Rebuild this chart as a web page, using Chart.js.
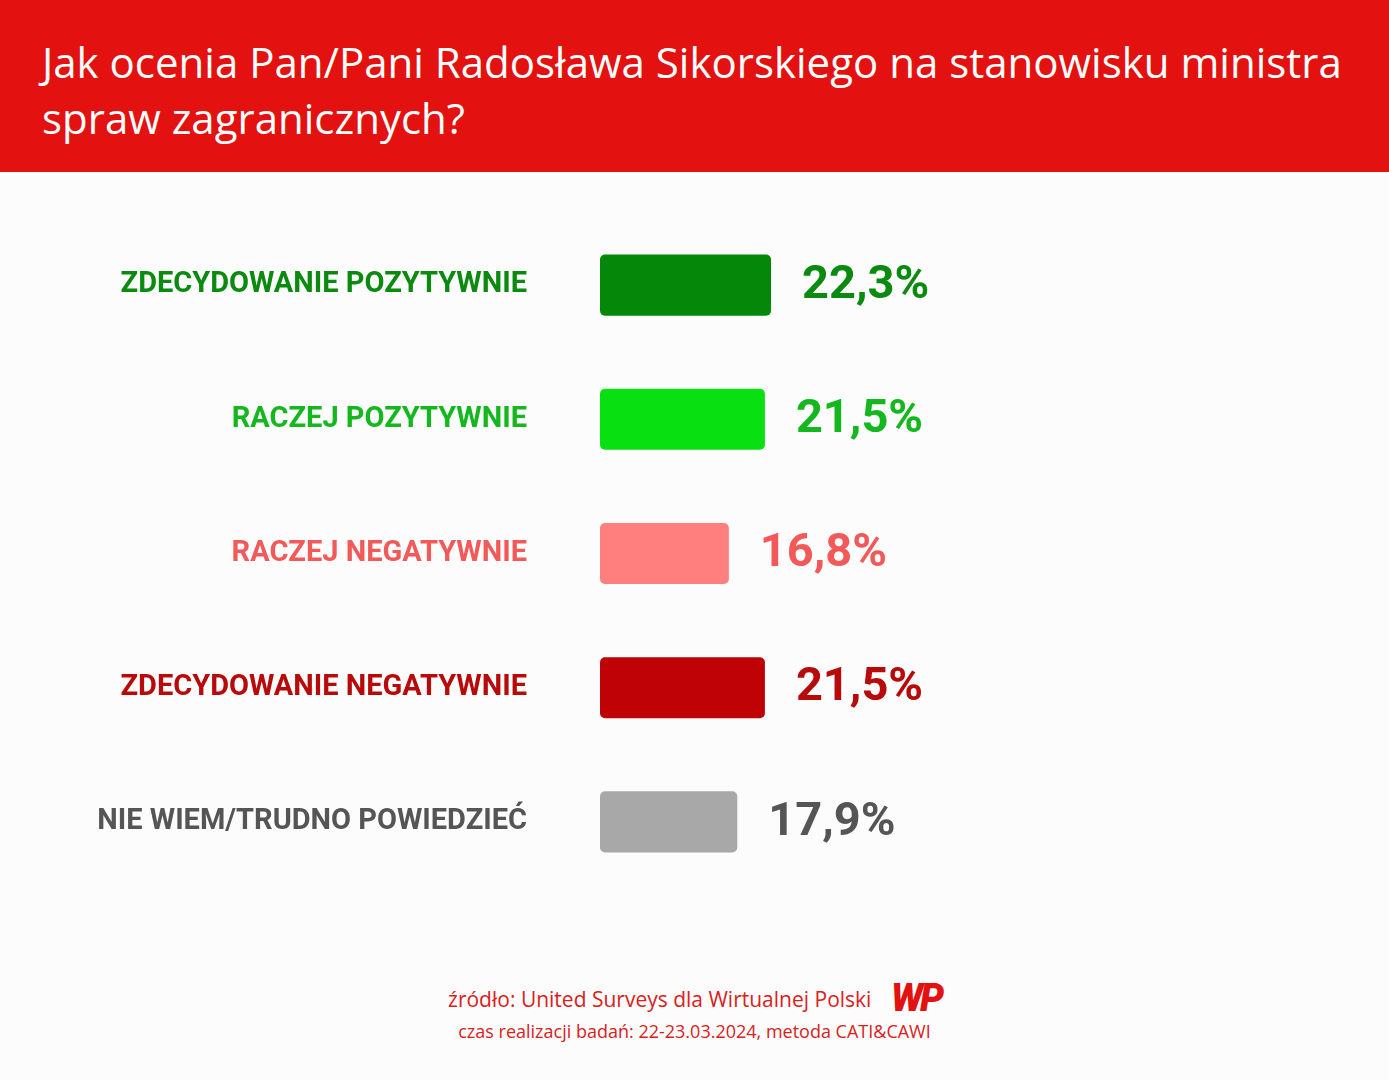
<!DOCTYPE html>
<html lang="pl">
<head>
<meta charset="UTF-8" />
<script src="https://cdn.jsdelivr.net/npm/chart.js@4.4.0/dist/chart.umd.min.js"></script>
<title>Sikorski</title>
<style>
  body { margin: 0; width: 1389px; height: 1080px; background: #fcfcfc; position: relative; overflow: hidden; font-family: Roboto, sans-serif; }
  .header { position: absolute; left: 0; top: 0; width: 1389px; height: 172px; background: #e3110f; }
  .header h1 { margin: 0; position: absolute; left: 42px; top: 34px; width: 1340px; color: #fff; font-family: "Open Sans", sans-serif; font-weight: 500; font-size: 42px; line-height: 56px; }
  .wrap { position: absolute; left: 0; top: 172px; width: 1389px; height: 765px; }
  .foot { position: absolute; left: 0; width: 1389px; text-align: center; color: #d9211c; font-family: "Open Sans", sans-serif; }
  .f1 { top: 976px; font-size: 21px; }
  .f2 { top: 1019px; font-size: 18px; }
  .logo { font-family: Roboto, sans-serif; font-weight: 900; font-style: italic; font-size: 38px; color: #e3110f; vertical-align: -4px; margin-left: 14px; letter-spacing: -3px; }
</style>
</head>
<body>
<div class="header"><h1>Jak ocenia Pan/Pani Radosława Sikorskiego na stanowisku ministra spraw zagranicznych?</h1></div>
<div class="wrap"><canvas id="chart" width="1389" height="765"></canvas></div>
<div class="foot f1">źródło: United Surveys dla Wirtualnej Polski <span class="logo">WP</span></div>
<div class="foot f2">czas realizacji badań: 22-23.03.2024, metoda CATI&amp;CAWI</div>
<script>
const categories = ['ZDECYDOWANIE POZYTYWNIE', 'RACZEJ POZYTYWNIE', 'RACZEJ NEGATYWNIE', 'ZDECYDOWANIE NEGATYWNIE', 'NIE WIEM/TRUDNO POWIEDZIEĆ'];
const values = [22.3, 21.5, 16.8, 21.5, 17.9];
const barColors = ['#058809', '#08e012', '#ff7f7f', '#bf0205', '#a8a8a8'];
const textColors = ['#0b8a10', '#14b81e', '#f25a5a', '#b80a0a', '#555555'];

const valueLabels = {
  id: 'valueLabels',
  afterDatasetsDraw(chart) {
    const ctx = chart.ctx;
    const meta = chart.getDatasetMeta(0);
    ctx.save();
    ctx.font = 'bold 47px Roboto';
    ctx.textBaseline = 'middle';
    meta.data.forEach((bar, i) => {
      ctx.fillStyle = textColors[i];
      ctx.fillText(values[i].toFixed(1).replace('.', ',') + '%', bar.x + 31, bar.y + 1);
    });
    ctx.restore();
  }
};

new Chart(document.getElementById('chart'), {
  type: 'bar',
  data: {
    labels: categories,
    datasets: [{
      data: values,
      backgroundColor: barColors,
      borderRadius: 5,
      borderSkipped: false,
      barPercentage: 0.455,
      categoryPercentage: 1
    }]
  },
  plugins: [valueLabels],
  options: {
    indexAxis: 'y',
    responsive: false,
    animation: false,
    layout: { padding: { top: 46, bottom: 48, right: 22, left: 0 } },
    plugins: { legend: { display: false }, tooltip: { enabled: false } },
    scales: {
      x: { min: 0, max: 100, display: false },
      y: {
        afterFit(scale) { scale.width = 600; scale.paddingTop = 0; scale.paddingBottom = 0; },
        grid: { display: false },
        border: { display: false },
        ticks: {
          padding: 65,
          color: textColors,
          font: { family: 'Roboto', weight: 'bold', size: 29 }
        }
      }
    }
  }
});
</script>
</body>
</html>
